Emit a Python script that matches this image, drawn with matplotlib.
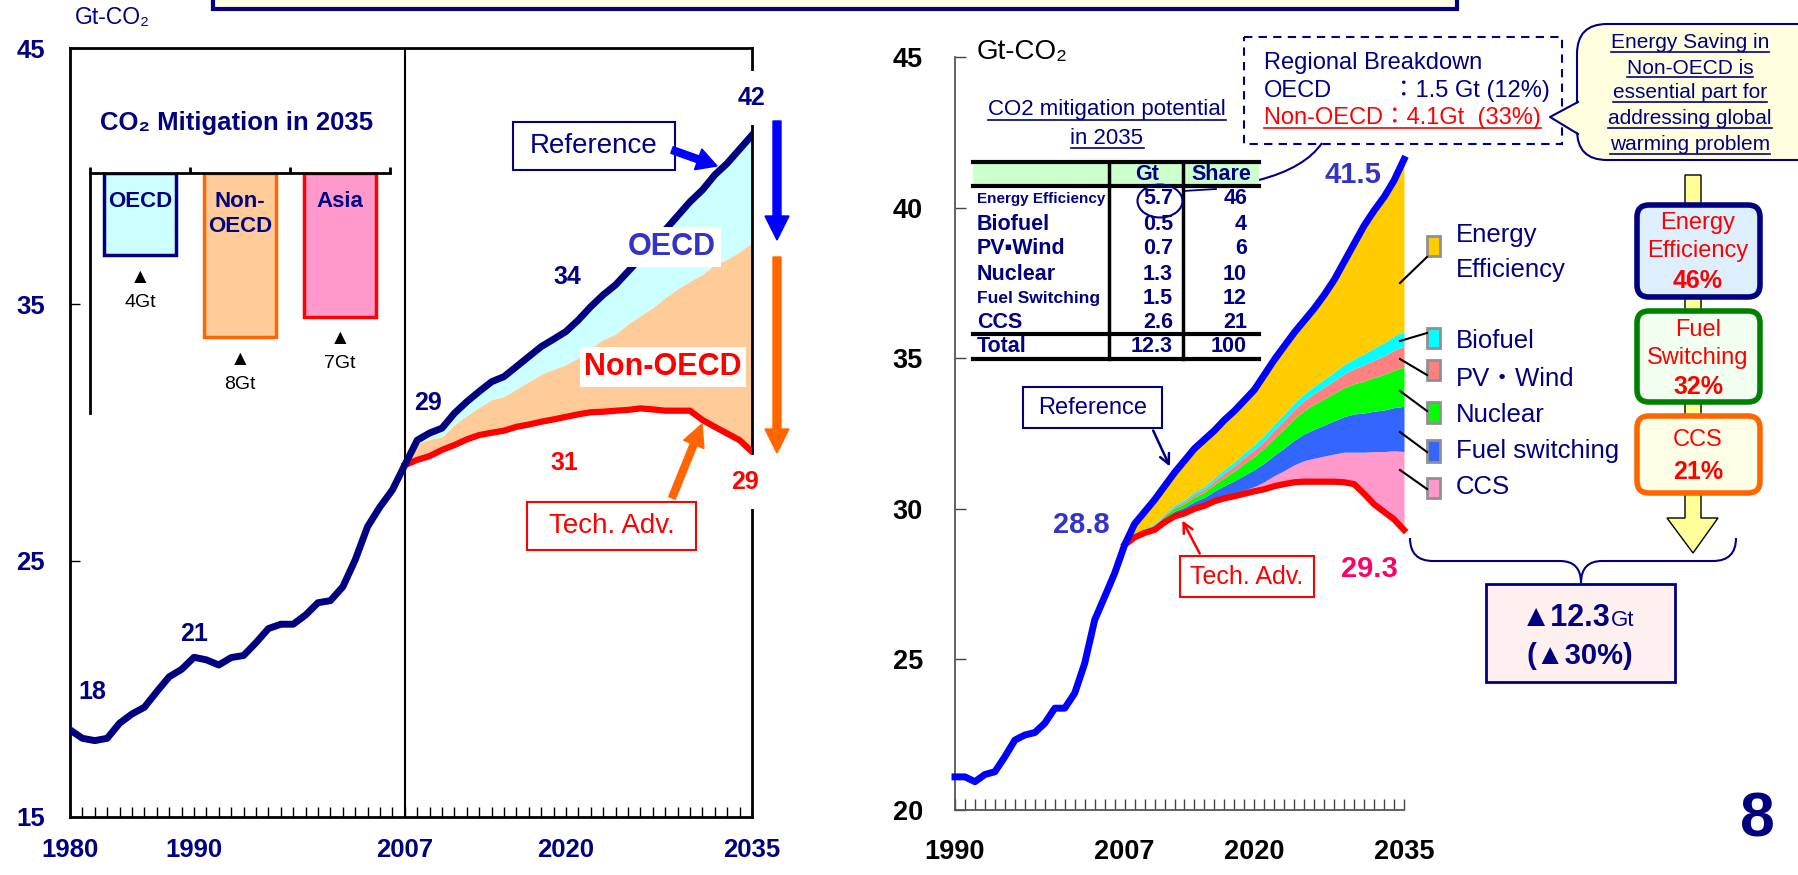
import numpy as np
import matplotlib.pyplot as plt
from matplotlib.patches import Rectangle, FancyBboxPatch, Polygon, Ellipse, FancyArrow, PathPatch
from matplotlib.path import Path

plt.rcParams['font.family'] = ['Liberation Sans', 'DejaVu Sans', 'Noto Sans CJK JP']

W, H = 1798, 875
NAVY = '#000080'

# ---------------- data: left chart (world CO2, 1980-2035)
yrs_hist_l = np.arange(1980, 2008)
hist_l = [18.4, 18.07, 17.98, 18.07, 18.66, 19.02, 19.28, 19.89, 20.47, 20.76,
          21.23, 21.13, 20.93, 21.22, 21.3, 21.8, 22.35, 22.52, 22.52, 22.88,
          23.36, 23.44, 23.98, 25.03, 26.33, 27.1, 27.76, 28.73]
yrs_fut = np.arange(2007, 2036)
ref_l = np.array([28.73, 29.7, 29.98, 30.17, 30.75, 31.2, 31.6, 31.98, 32.18, 32.57,
                  32.96, 33.35, 33.64, 33.94, 34.39, 34.91, 35.37, 35.76, 36.28, 36.8,
                  37.32, 37.9, 38.45, 39.0, 39.46, 40.05, 40.5, 41.05, 41.6])
oecd_cut_l = np.array([0, 0.15, 0.25, 0.35, 0.45, 0.55, 0.62, 0.7, 0.78, 0.88,
                       0.98, 1.08, 1.18, 1.3, 1.48, 1.62, 1.75, 1.92, 2.05, 2.25,
                       2.45, 2.65, 2.85, 3.1, 3.3, 3.5, 3.75, 4.0, 4.2])
tech_l = np.array([28.73, 28.93, 29.08, 29.32, 29.51, 29.73, 29.9, 29.99, 30.07, 30.22,
                   30.31, 30.42, 30.51, 30.61, 30.71, 30.79, 30.81, 30.85, 30.88, 30.94,
                   30.9, 30.85, 30.85, 30.85, 30.49, 30.22, 29.96, 29.7, 29.25])

# inset: mitigation by region in 2035
regions = ['OECD', 'Non-\nOECD', 'Asia']
region_cut = [4, 8, 7]
region_fill = ['#CCFFFF', '#FFCC99', '#FF99CC']
region_edge = [NAVY, '#FF6600', '#FF0000']

# ---------------- data: right chart (1990-2035, by technology)
yrs_hist_r = np.arange(1990, 2008)
hist_r = [21.1, 21.1, 20.94, 21.18, 21.27, 21.77, 22.32, 22.49, 22.57, 22.88,
          23.38, 23.38, 23.88, 24.87, 26.31, 27.08, 27.86, 28.8]
ref_r = np.array([28.8, 29.5, 29.9, 30.3, 30.75, 31.2, 31.6, 32.0, 32.3, 32.6,
                  32.95, 33.25, 33.6, 33.95, 34.45, 34.95, 35.4, 35.85, 36.25, 36.65,
                  37.1, 37.6, 38.2, 38.8, 39.4, 39.9, 40.35, 40.9, 41.6])
tech_r = np.array([28.8, 29.05, 29.2, 29.3, 29.55, 29.75, 29.85, 30.0, 30.1, 30.25,
                   30.35, 30.42, 30.5, 30.58, 30.65, 30.75, 30.82, 30.88, 30.9, 30.9,
                   30.9, 30.9, 30.88, 30.82, 30.5, 30.15, 29.9, 29.65, 29.3])
ccs_r = [0, 0, 0, 0, 0, 0, 0, 0, 0, 0.02, 0.05, 0.08, 0.12, 0.16, 0.25, 0.35, 0.45,
         0.58, 0.7, 0.78, 0.85, 0.92, 1.0, 1.06, 1.38, 1.75, 2.0, 2.28, 2.6]
fs_r = [0, 0.03, 0.06, 0.1, 0.13, 0.17, 0.2, 0.24, 0.28, 0.32, 0.37, 0.43, 0.5, 0.56,
        0.62, 0.68, 0.75, 0.82, 0.89, 0.96, 1.03, 1.1, 1.18, 1.27, 1.3, 1.34, 1.38, 1.43, 1.5]
nuc_r = [0, 0.02, 0.04, 0.06, 0.08, 0.1, 0.12, 0.15, 0.17, 0.22, 0.27, 0.33, 0.39, 0.44,
         0.5, 0.57, 0.64, 0.71, 0.78, 0.83, 0.87, 0.92, 0.96, 1.0, 1.06, 1.12, 1.18, 1.24, 1.3]
pv_r = [0, 0.01, 0.02, 0.03, 0.05, 0.06, 0.08, 0.09, 0.1, 0.12, 0.15, 0.17, 0.2, 0.22,
        0.24, 0.27, 0.29, 0.31, 0.33, 0.36, 0.39, 0.42, 0.46, 0.5, 0.54, 0.58, 0.62, 0.66, 0.7]
bio_r = [0, 0.01, 0.02, 0.03, 0.04, 0.05, 0.06, 0.08, 0.09, 0.1, 0.12, 0.13, 0.15, 0.17,
         0.18, 0.19, 0.2, 0.21, 0.22, 0.24, 0.26, 0.28, 0.31, 0.33, 0.36, 0.4, 0.43, 0.47, 0.5]
layer_colors = ['#FF99CC', '#3366FF', '#00FF00', '#FF8080', '#00FFFF']
EE_COLOR = '#FFCC00'

# table
techs = ['Energy Efficiency', 'Biofuel', 'PV▪Wind', 'Nuclear', 'Fuel Switching', 'CCS']
tech_gt = [5.7, 0.5, 0.7, 1.3, 1.5, 2.6]
tech_share = [46, 4, 6, 10, 12, 21]
total_gt = 12.3
total_share = 100


def px_rect(x0, y0, x1, y1):
    return [x0 / W, 1 - y1 / H, (x1 - x0) / W, (y1 - y0) / H]


fig = plt.figure(figsize=(W / 100, H / 100), dpi=100, facecolor='white')

# ================= left chart
ax_l = fig.add_axes(px_rect(70, 48, 752, 817))
ax_l.fill_between(yrs_fut, ref_l - oecd_cut_l, ref_l, color='#CCFFFF', lw=0)
ax_l.fill_between(yrs_fut, tech_l, ref_l - oecd_cut_l, color='#FFCC99', lw=0)
ax_l.plot(yrs_fut, tech_l, color='#FF0000', lw=4.5, solid_joinstyle='round', zorder=3)
ax_l.plot(np.r_[yrs_hist_l, yrs_fut[1:]], np.r_[hist_l, ref_l[1:]], color=NAVY, lw=5,
          solid_joinstyle='round', zorder=4)
ax_l.axvline(2007, color='black', lw=1.5, zorder=2)
ax_l.set_xlim(1980, 2035)
ax_l.set_ylim(15, 45)
ax_l.set_xticks([1980, 1990, 2007, 2020, 2035])
ax_l.set_xticks(range(1980, 2036), minor=True)
ax_l.set_yticks([15, 25, 35, 45])
ax_l.tick_params(which='both', direction='in', length=7, width=1, colors='black',
                 labelcolor=NAVY, labelsize=18.5)
ax_l.tick_params(axis='x', pad=15)
ax_l.tick_params(axis='y', pad=18)
for lbl in ax_l.get_xticklabels() + ax_l.get_yticklabels():
    lbl.set_fontweight('bold')
for s in ax_l.spines.values():
    s.set_linewidth(2)

lab = dict(textcoords='offset points', ha='center', va='center', fontsize=18,
           fontweight='bold', zorder=6)
wbox = dict(boxstyle='square,pad=0.6', fc='white', ec='none')
ax_l.annotate('18', (1980, hist_l[0]), xytext=(16, 27), color=NAVY, **lab)
ax_l.annotate('21', (1990, hist_l[10]), xytext=(0, 17), color=NAVY, **lab)
ax_l.annotate('29', (2007, ref_l[0]), xytext=(17, 45), color=NAVY, **lab)
ax_l.annotate('34', (2020, ref_l[13]), xytext=(1, 39), color=NAVY, **lab)
ax_l.annotate('42', (2035, ref_l[-1]), xytext=(0, 27), color=NAVY, bbox=wbox, **lab)
ax_l.annotate('31', (2020, tech_l[13]), xytext=(-1, -33), color='#FF0000', **lab)
ax_l.annotate('29', (2035, tech_l[-1]), xytext=(-5, -22), color='#FF0000', bbox=wbox, **lab)

# inset bar chart
ax_in = fig.add_axes(px_rect(90, 173, 390, 413))
ax_in.patch.set_alpha(0)
xs = np.arange(len(regions)) + 0.5
ax_in.bar(xs, [-v for v in region_cut], width=0.72, color=region_fill,
          edgecolor=region_edge, lw=2.5)
ax_in.set_xlim(0, 3)
ax_in.set_ylim(-11.7, 0)
ax_in.spines['bottom'].set_visible(False)
ax_in.spines['right'].set_visible(False)
ax_in.spines['top'].set_linewidth(2)
ax_in.spines['left'].set_linewidth(2)
ax_in.xaxis.tick_top()
ax_in.set_xticks([0, 1, 2, 3])
ax_in.tick_params(axis='x', direction='out', length=4, width=2, labeltop=False)
ax_in.set_yticks([])
for x, name, v in zip(xs, regions, region_cut):
    ax_in.text(x, -0.9, name, ha='center', va='top', fontsize=16, fontweight='bold',
               color=NAVY, linespacing=1.2)
    ax_in.annotate('▲', (x, -v), xytext=(0, -16), textcoords='offset points',
                   ha='center', va='center', fontsize=15, color='black')
    ax_in.annotate(f'{v}Gt', (x, -v), xytext=(0, -34), textcoords='offset points',
                   ha='center', va='center', fontsize=14, color='black')

# ================= right chart
ax_r = fig.add_axes(px_rect(955, 57, 1404, 810))
lower = tech_r.copy()
for vals, c in zip([ccs_r, fs_r, nuc_r, pv_r, bio_r], layer_colors):
    upper = lower + np.array(vals)
    ax_r.fill_between(yrs_fut, lower, upper, color=c, lw=0)
    lower = upper
ax_r.fill_between(yrs_fut, lower, ref_r, color=EE_COLOR, lw=0)
ax_r.plot(yrs_fut, tech_r, color='#FF0000', lw=4.5, solid_joinstyle='round', zorder=3,
          clip_on=False)
ax_r.plot(np.r_[yrs_hist_r, yrs_fut[1:]], np.r_[hist_r, ref_r[1:]], color='#0000FF', lw=5,
          solid_joinstyle='round', zorder=4, clip_on=False)
ax_r.set_xlim(1990, 2035)
ax_r.set_ylim(20, 45)
ax_r.set_xticks([1990, 2007, 2020, 2035])
ax_r.set_xticks(range(1990, 2036), minor=True)
ax_r.set_yticks(range(20, 46, 5))
ax_r.tick_params(which='both', direction='in', length=8, width=1, colors='#444444',
                 labelcolor='black', labelsize=19.5)
ax_r.tick_params(axis='x', pad=21)
ax_r.tick_params(axis='y', pad=23)
for lbl in ax_r.get_xticklabels() + ax_r.get_yticklabels():
    lbl.set_fontweight('bold')
ax_r.spines['top'].set_visible(False)
ax_r.spines['right'].set_visible(False)
for s in ('left', 'bottom'):
    ax_r.spines[s].set_color('#555555')
    ax_r.spines[s].set_linewidth(1.3)
ax_r.annotate('28.8', (2007, ref_r[0]), xytext=(-31, 14), color='#3333CC',
              textcoords='offset points', ha='center', va='center', fontsize=21, fontweight='bold')
ax_r.annotate('41.5', (2035, ref_r[-1]), xytext=(-37, -11), color='#3333CC',
              textcoords='offset points', ha='center', va='center', fontsize=21, fontweight='bold')
ax_r.annotate('29.3', (2035, tech_r[-1]), xytext=(-25, -28), color='#FF0066',
              textcoords='offset points', ha='center', va='center', fontsize=21, fontweight='bold')

# ================= overlay in pixel units
ov = fig.add_axes([0, 0, 1, 1], zorder=10)
ov.set_xlim(0, W)
ov.set_ylim(H, 0)
ov.axis('off')

underlined = []


def utext(x, y, s, color, **kw):
    t = ov.text(x, y, s, color=color, **kw)
    underlined.append((t, color))
    return t


def boxed(x0, y0, x1, y1, s, color, fs, fc='white', ec=None, lw=1.5):
    ov.add_patch(Rectangle((x0, y0), x1 - x0, y1 - y0, fc=fc, ec=ec or color, lw=lw, zorder=5))
    ov.text((x0 + x1) / 2, (y0 + y1) / 2, s, color=color, fontsize=fs, ha='center',
            va='center', zorder=6)


# top banner edge
ov.add_patch(Rectangle((213, -20), 1244, 29, fc='#FFFFE6', ec=NAVY, lw=3))

# left chart texts
ov.text(75, 17, 'Gt-CO₂', fontsize=16.5, color=NAVY, va='center', ha='left')
ov.text(237, 123, 'CO₂ Mitigation in 2035', fontsize=18.5, fontweight='bold', color=NAVY,
        ha='center', va='center')
ov.text(672, 247, 'OECD', fontsize=22, fontweight='bold', color='#3333CC', ha='center',
        va='center', bbox=dict(boxstyle='square,pad=0.15', fc='white', ec='none'))
ov.text(663, 367, 'Non-OECD', fontsize=22, fontweight='bold', color='#FF0000', ha='center',
        va='center', bbox=dict(boxstyle='square,pad=0.15', fc='white', ec='none'))
boxed(513, 122, 675, 170, 'Reference', NAVY, 20)
boxed(527, 502, 696, 550, 'Tech. Adv.', '#FF0000', 20)
ov.add_patch(FancyArrow(672, 150, 45, 16, width=7, head_width=22, head_length=20,
                        length_includes_head=True, color='#0000FF', zorder=6))
ov.add_patch(FancyArrow(672, 498, 30, -74, width=7, head_width=22, head_length=22,
                        length_includes_head=True, color='#FF6600', zorder=6))
ov.add_patch(FancyArrow(777, 121, 0, 119, width=8, head_width=24, head_length=24,
                        length_includes_head=True, color='#0000FF'))
ov.add_patch(FancyArrow(777, 257, 0, 196, width=8, head_width=24, head_length=24,
                        length_includes_head=True, color='#FF6600'))

# right chart texts
ov.text(977, 52, 'Gt-CO₂', fontsize=20, color='black', va='center', ha='left')
boxed(1023, 387, 1162, 428, 'Reference', NAVY, 17)
boxed(1180, 556, 1314, 597, 'Tech. Adv.', '#FF0000', 18)
ov.annotate('', xy=(1171, 469), xytext=(1152, 428),
            arrowprops=dict(arrowstyle='->,head_length=0.7,head_width=0.35', color=NAVY, lw=1.8))
ov.annotate('', xy=(1181, 518), xytext=(1201, 556),
            arrowprops=dict(arrowstyle='->,head_length=0.7,head_width=0.35', color='#FF0000', lw=1.8))

# table title and table
utext(1107, 110, 'CO2 mitigation potential', NAVY, fontsize=16, ha='center', va='center')
utext(1107, 138, 'in 2035', NAVY, fontsize=16, ha='center', va='center')
ov.plot([1183, 1216], [191, 189], color=NAVY, lw=1.3, zorder=2)
ov.add_patch(PathPatch(Path([(1259, 180), (1305, 168), (1322, 143)],
                            [Path.MOVETO, Path.CURVE3, Path.CURVE3]),
                       fill=False, ec=NAVY, lw=1.5))
ov.add_patch(Rectangle((973, 162), 286, 24, fc='#CCFFCC', ec='none', zorder=1))
for yy in (162, 186, 334, 359):
    ov.plot([973, 1259], [yy, yy], color='black', lw=3, zorder=3)
for xx in (1109, 1183):
    ov.plot([xx, xx], [162, 359], color='black', lw=2.5, zorder=3)
tstyle = dict(color=NAVY, fontweight='bold', va='center', zorder=4)
ov.text(1147, 175, 'Gt', ha='center', fontsize=15.5, **tstyle)
ov.text(1221, 175, 'Share', ha='center', fontsize=15.5, **tstyle)
row_y = [199, 224, 249, 274, 298, 323]
row_fs = [11, 15.5, 15.5, 15.5, 12.5, 15.5]
for yy, name, g, sh, f in zip(row_y, techs, tech_gt, tech_share, row_fs):
    ov.text(977, yy, name, ha='left', fontsize=f, **tstyle)
    ov.text(1173, yy, f'{g:.1f}', ha='right', fontsize=15.5, **tstyle)
    ov.text(1247, yy, f'{sh}', ha='right', fontsize=15.5, **tstyle)
ov.text(977, 347, 'Total', ha='left', fontsize=15.5, **tstyle)
ov.text(1173, 347, f'{total_gt:.1f}', ha='right', fontsize=15.5, **tstyle)
ov.text(1247, 347, f'{total_share}', ha='right', fontsize=15.5, **tstyle)
ov.add_patch(Ellipse((1160, 201), 45, 33, fill=False, ec=NAVY, lw=1.5, zorder=5))

# regional breakdown box
ov.add_patch(Rectangle((1244, 37), 318, 107, fill=False, ec=NAVY, lw=1.5, ls=(0, (4, 3))))
ov.text(1264, 63, 'Regional Breakdown', fontsize=17, color=NAVY, va='center')
ov.text(1264, 91, 'OECD', fontsize=17, color=NAVY, va='center')
ov.text(1392, 91, '：1.5 Gt (12%)', fontsize=17, color=NAVY, va='center')
utext(1264, 118, 'Non-OECD：4.1Gt  (33%)', '#FF0000', fontsize=17, va='center')

# speech bubble
ov.add_patch(FancyBboxPatch((1577, 24), 250, 136, boxstyle='round,pad=0,rounding_size=30',
                            fc='#FFFFE0', ec=NAVY, lw=1.5, zorder=1))
ov.add_patch(Polygon([(1584, 100), (1550, 117), (1584, 136)], closed=True, fc='#FFFFE0',
                     ec='none', zorder=2))
ov.plot([1578, 1550, 1578], [102, 117, 134], color=NAVY, lw=1.5, zorder=3)
for yy, s in zip([43, 68, 93, 119, 145],
                 ['Energy Saving in', 'Non-OECD is', 'essential part for',
                  'addressing global', 'warming problem']):
    utext(1690, yy, s, NAVY, fontsize=15, ha='center', va='center', zorder=4)

# legend for technology layers
leg_sq = [(236, 256), (328, 348), (360, 380), (402, 423), (440, 462), (478, 498)]
leg_line = [((1400, 283), (1427, 257)), ((1400, 341), (1427, 333)), ((1400, 359), (1427, 375)),
            ((1400, 391), (1427, 411)), ((1400, 432), (1427, 452)), ((1400, 470), (1427, 489))]
leg_text = [(235, 'Energy'), (341, 'Biofuel'), (379, 'PV・Wind'), (415, 'Nuclear'),
            (451, 'Fuel switching'), (487, 'CCS')]
leg_colors = [EE_COLOR] + layer_colors[::-1]
for (y0, y1), (p0, p1), c in zip(leg_sq, leg_line, leg_colors):
    ov.plot([p0[0], p1[0]], [p0[1], p1[1]], color='black', lw=1.5)
    ov.add_patch(Rectangle((1427, y0), 13, y1 - y0, fc=c, ec='#909090', lw=2))
for yy, s in leg_text:
    ov.text(1456, yy, s, fontsize=18.5, color=NAVY, va='center')
ov.text(1456, 270, 'Efficiency', fontsize=18.5, color=NAVY, va='center')

# flow arrow and boxes
ov.add_patch(Polygon([(1685, 175), (1701, 175), (1701, 518), (1718, 518), (1693, 553),
                      (1667, 518), (1685, 518)], closed=True, fc='#FFFF99', ec='black', lw=1))
flow = [((205, 297), '#DDEEFF', NAVY, [(223, 'Energy'), (251, 'Efficiency')], (281, '46%')),
        ((311, 402), '#F0FFF0', '#008000', [(330, 'Fuel'), (358, 'Switching')], (387, '32%')),
        ((416, 493), '#FFFFE8', '#FF6600', [(440, 'CCS')], (472, '21%'))]
for (y0, y1), fc, ec, lines, pct in flow:
    ov.add_patch(FancyBboxPatch((1637, y0), 123, y1 - y0, boxstyle='round,pad=0,rounding_size=12',
                                fc=fc, ec=ec, lw=4, zorder=3))
    for yy, s in lines:
        ov.text(1698, yy, s, fontsize=17, color='#FF0000', ha='center', va='center', zorder=4)
    ov.text(1698, pct[0], pct[1], fontsize=18, fontweight='bold', color='#FF0000',
            ha='center', va='center', zorder=4)

# brace and total box
bv = [(1410, 538), (1410, 561), (1433, 561), (1560, 561), (1581, 561), (1581, 583),
      (1581, 561), (1602, 561), (1713, 561), (1736, 561), (1736, 538)]
bc = [Path.MOVETO, Path.CURVE3, Path.CURVE3, Path.LINETO, Path.CURVE3, Path.CURVE3,
      Path.CURVE3, Path.CURVE3, Path.LINETO, Path.CURVE3, Path.CURVE3]
ov.add_patch(PathPatch(Path(bv, bc), fill=False, ec=NAVY, lw=1.5))
ov.add_patch(Rectangle((1486, 584), 189, 98, fc='#FFF0F0', ec=NAVY, lw=2))
ov.text(1611, 618, '▲12.3', fontsize=22, fontweight='bold', color=NAVY, ha='right', va='center')
ov.text(1611, 621, 'Gt', fontsize=16, color=NAVY, ha='left', va='center')
ov.text(1580, 656, '(▲30%)', fontsize=21, fontweight='bold', color=NAVY, ha='center', va='center')

ov.text(1757, 820, '8', fontsize=45, fontweight='bold', color=NAVY, ha='center', va='center')

# underlines
fig.canvas.draw()
for t, c in underlined:
    bb = t.get_window_extent()
    yb = H - bb.y0 - 1
    ov.plot([bb.x0, bb.x1], [yb, yb], color=c, lw=1.2, zorder=5)

fig.savefig('out.png', dpi=100, facecolor='white')
